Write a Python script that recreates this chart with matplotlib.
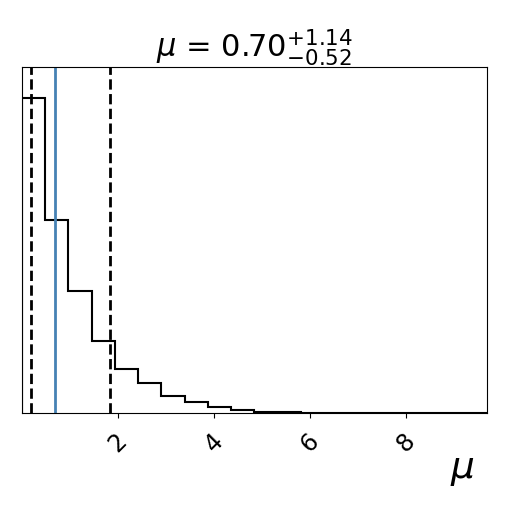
import numpy as np
import matplotlib.pyplot as plt

# posterior histogram of mu (relative heights)
counts = [315.5, 194, 122, 72, 44, 30, 17, 11.5, 6, 3,
          1.5, 1.0, 0.6, 0.4, 0.3, 0.2, 0.1, 0.1, 0.05, 0.05]
mu_range = (0.0, 9.7)
q_lo, q_med, q_hi = 0.18, 0.70, 1.84
ticks = [2, 4, 6, 8]

edges = np.linspace(mu_range[0], mu_range[1], len(counts) + 1)

fig = plt.figure(figsize=(5.1, 5.1), dpi=100)
ax = fig.add_axes([0.043, 0.188, 0.912, 0.679])

ax.stairs(counts, edges, color="k", lw=1.5)
for q in (q_lo, q_hi):
    ax.axvline(q, ls="dashed", color="k", lw=2)
ax.axvline(q_med, color="#4682b4", lw=2)

ax.set_xlim(*mu_range)
ax.set_ylim(0, 1.1 * max(counts))
ax.set_yticks([])
ax.set_xticks(ticks)
ax.tick_params(axis="x", labelsize=17, pad=7)
for lab in ax.get_xticklabels():
    lab.set_rotation(45)

ax.set_title(r"$\mu$ = $0.70_{-0.52}^{+1.14}$", fontsize=22, pad=4)
ax.set_xlabel(r"$\mu$", fontsize=27)
ax.xaxis.label.set_va("center")
ax.xaxis.set_label_coords(0.946, -0.162)

plt.savefig("out.png")
